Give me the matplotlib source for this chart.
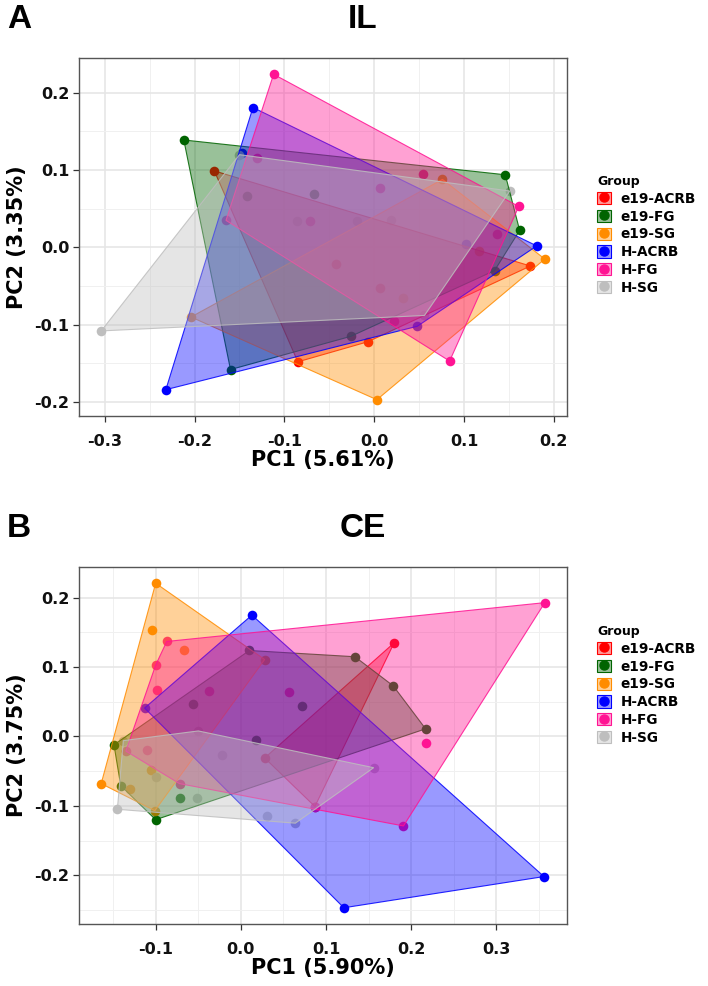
import matplotlib
matplotlib.use("Agg")
import matplotlib.pyplot as plt
from matplotlib.patches import Polygon, Patch
from matplotlib.lines import Line2D
from matplotlib.legend_handler import HandlerTuple
from matplotlib.ticker import MultipleLocator, FuncFormatter
from matplotlib.colors import to_rgba

# ── Groups and colours ────────────────────────────────────────────────────────
GROUPS = ["e19-ACRB", "e19-FG", "e19-SG", "H-ACRB", "H-FG", "H-SG"]
COLORS = ["#FF0000", "#006400", "#FF8C00", "#0000FF", "#FF1493", "#BEBEBE"]

# ── Panel A: IL (one list per group, in GROUPS order) ────────────────────────
IL_PC1 = [
    [-0.178, 0.174, -0.007, -0.085, -0.043, 0.007],
    [-0.212, 0.146, 0.162, 0.134, -0.026, -0.160, -0.142, -0.067],
    [0.003, 0.190, 0.076, -0.204, 0.117, 0.032],
    [-0.135, 0.181, 0.048, -0.232, -0.147, 0.102],
    [-0.112, 0.161, 0.084, 0.054, 0.022, -0.165, -0.072, 0.007, 0.137, -0.131],
    [-0.304, -0.150, 0.151, 0.056, -0.019, 0.019, -0.086],
]
IL_PC2 = [
    [0.099, -0.024, -0.122, -0.148, -0.021, -0.052],
    [0.139, 0.094, 0.022, -0.030, -0.115, -0.158, 0.067, 0.069],
    [-0.197, -0.015, 0.088, -0.090, -0.004, -0.065],
    [0.181, 0.002, -0.102, -0.184, 0.122, 0.004],
    [0.224, 0.053, -0.147, 0.095, -0.095, 0.035, 0.034, 0.077, 0.017, 0.116],
    [-0.108, 0.120, 0.073, -0.088, 0.034, 0.036, 0.034],
]

# ── Panel B: CE ───────────────────────────────────────────────────────────────
CE_PC1 = [
    [0.180, 0.087, 0.028],
    [-0.149, 0.010, 0.134, 0.179, 0.217, -0.100, -0.141, -0.071, -0.056, 0.072, 0.018],
    [-0.100, -0.104, -0.067, 0.028, -0.164, -0.130, -0.105, -0.101],
    [0.013, 0.356, 0.121, -0.113],
    [-0.087, 0.357, 0.191, 0.087, -0.135, -0.100, -0.099, -0.037, 0.057, 0.217, -0.110, -0.072],
    [-0.145, -0.138, -0.050, 0.156, 0.064, 0.031, -0.022, -0.100, -0.052],
]
CE_PC2 = [
    [0.135, -0.101, -0.031],
    [-0.012, 0.124, 0.115, 0.073, 0.011, -0.120, -0.071, -0.089, 0.047, 0.044, -0.005],
    [0.221, 0.153, 0.125, 0.111, -0.068, -0.076, -0.049, -0.107],
    [0.175, -0.202, -0.247, 0.041],
    [0.137, 0.193, -0.129, -0.101, -0.021, 0.103, 0.067, 0.066, 0.064, -0.010, -0.020, -0.068],
    [-0.105, -0.006, 0.008, -0.045, -0.125, -0.114, -0.026, -0.059, -0.089],
]

plt.rcParams["font.family"] = ["DejaVu Sans"]
plt.rcParams["font.weight"] = "bold"
plt.rcParams["axes.unicode_minus"] = False


def hull(xs, ys):
    pts = sorted(set(zip(xs, ys)))
    if len(pts) < 3:
        return pts

    def cross(o, a, b):
        return (a[0] - o[0]) * (b[1] - o[1]) - (a[1] - o[1]) * (b[0] - o[0])

    lower, upper = [], []
    for p in pts:
        while len(lower) >= 2 and cross(lower[-2], lower[-1], p) <= 0:
            lower.pop()
        lower.append(p)
    for p in reversed(pts):
        while len(upper) >= 2 and cross(upper[-2], upper[-1], p) <= 0:
            upper.pop()
        upper.append(p)
    return lower[:-1] + upper[:-1]


def pad_lim(vals):
    lo, hi = min(vals), max(vals)
    d = (hi - lo) * 0.05
    return lo - d, hi + d


def panel(ax, pc1, pc2, xlab, ylab):
    # points first, hulls on top (so inner points look washed out)
    for xs, ys, c in zip(pc1, pc2, COLORS):
        ax.scatter(xs, ys, s=48, color=c, lw=0, zorder=2)
    for xs, ys, c in zip(pc1, pc2, COLORS):
        poly = Polygon(hull(xs, ys), closed=True, facecolor=to_rgba(c, 0.4),
                       edgecolor=to_rgba(c, 0.85), lw=0.8, zorder=3)
        ax.add_patch(poly)

    ax.set_xlim(*pad_lim([v for g in pc1 for v in g]))
    ax.set_ylim(*pad_lim([v for g in pc2 for v in g]))
    for axis in (ax.xaxis, ax.yaxis):
        axis.set_major_locator(MultipleLocator(0.1))
        axis.set_minor_locator(MultipleLocator(0.05))
        axis.set_major_formatter(FuncFormatter(
            lambda v, p: f"{v:.1f}".replace("-0.0", "0.0")))
    ax.grid(which="major", color="#E6E6E6", lw=1.2)
    ax.grid(which="minor", color="#F0F0F0", lw=0.7)
    ax.set_axisbelow(True)
    for sp in ax.spines.values():
        sp.set_color("#555555")
        sp.set_linewidth(1.0)
    ax.tick_params(which="major", length=4, width=0.9, color="#333333",
                   labelsize=11.5, labelcolor="#111111")
    ax.tick_params(axis="x", which="major", pad=9)
    ax.tick_params(axis="y", which="major", pad=3)
    ax.tick_params(which="minor", length=0)
    ax.set_xlabel(xlab, fontsize=15, fontweight="bold", labelpad=1)
    ax.set_ylabel(ylab, fontsize=15, fontweight="bold", labelpad=5)


W, H = 708, 986
fig = plt.figure(figsize=(W / 100, H / 100), dpi=100)

ax_a = fig.add_axes([79 / W, 1 - 416 / H, (567 - 79) / W, (416 - 58) / H])
ax_b = fig.add_axes([79 / W, 1 - 924 / H, (567 - 79) / W, (924 - 567) / H])

panel(ax_a, IL_PC1, IL_PC2, "PC1 (5.61%)", "PC2 (3.35%)")
panel(ax_b, CE_PC1, CE_PC2, "PC1 (5.90%)", "PC2 (3.75%)")

title_font = dict(fontsize=24, fontweight="bold", family="Liberation Sans")
fig.text(7 / W, 1 - 28 / H, "A", va="baseline", ha="left", **title_font)
fig.text(363 / W, 1 - 28 / H, "IL", va="baseline", ha="center", **title_font)
fig.text(7 / W, 1 - 537 / H, "B", va="baseline", ha="left", **title_font)
fig.text(363 / W, 1 - 537 / H, "CE", va="baseline", ha="center", **title_font)

handles = [(Patch(facecolor=to_rgba(c, 0.4), edgecolor=c, lw=0.8),
            Line2D([], [], ls="", marker="o", markersize=6.5, color=c))
           for c in COLORS]

for top in (175, 625):
    fig.legend(handles, GROUPS, title="Group", loc="upper left",
               bbox_to_anchor=(597 / W, 1 - top / H), frameon=False,
               handler_map={tuple: HandlerTuple(ndivide=1)},
               fontsize=9.8, title_fontsize=9, alignment="left",
               handlelength=1.0, handleheight=1.0, handletextpad=0.75,
               labelspacing=0.28, borderpad=0, borderaxespad=0)

fig.savefig("out.png", dpi=100, facecolor="white")
